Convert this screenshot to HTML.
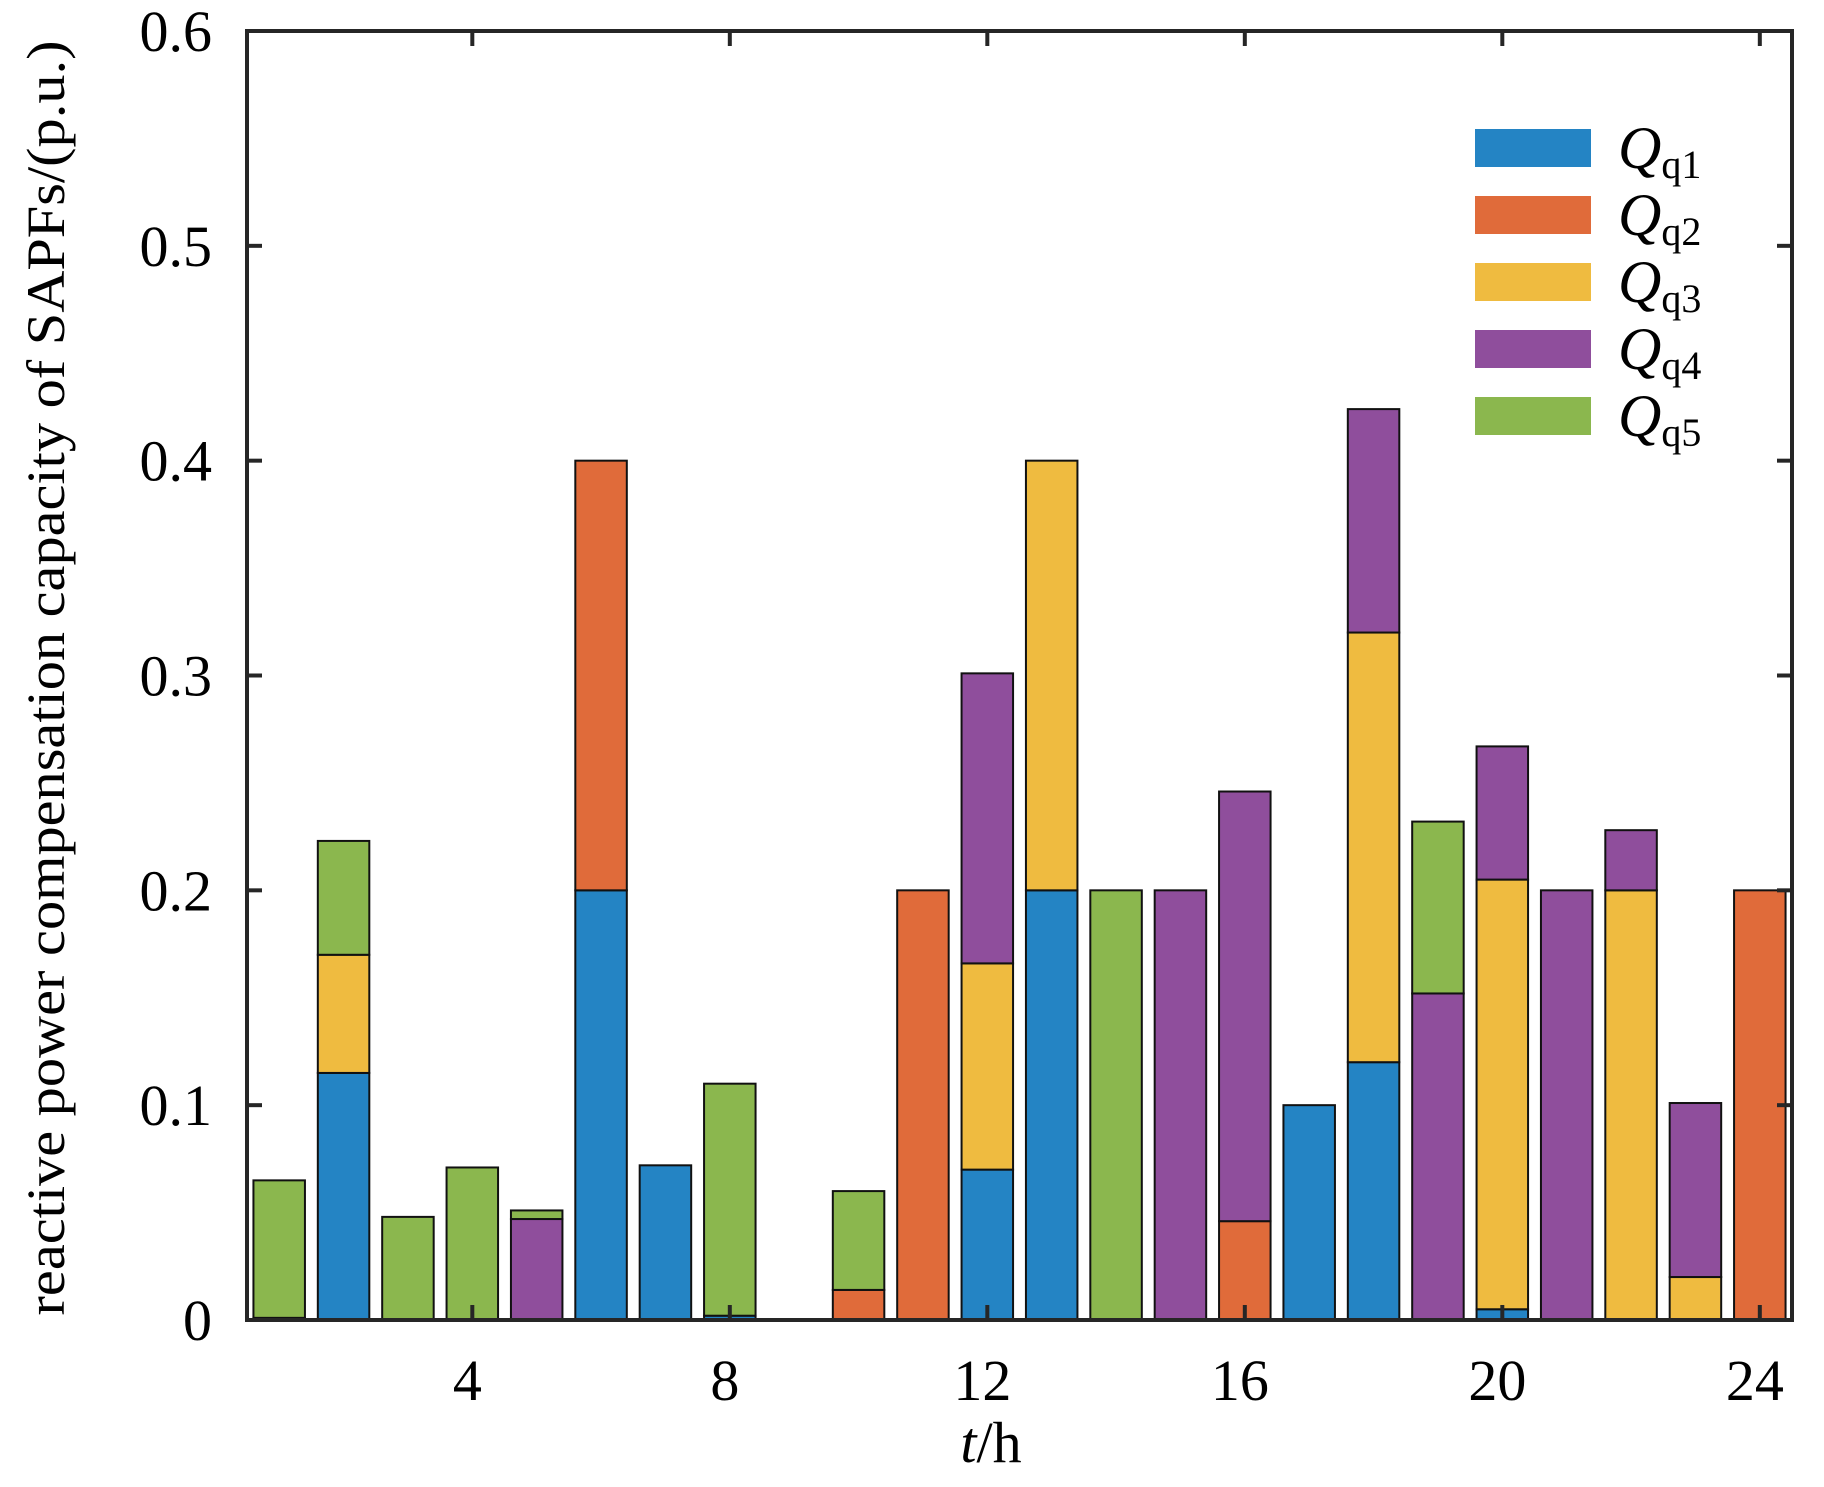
<!DOCTYPE html>
<html><head><meta charset="utf-8"><style>
body{margin:0;background:#fff}
svg text{font-family:"Liberation Serif",serif;fill:#000}
</style></head><body>
<svg id="chart" width="1824" height="1482" viewBox="0 0 1824 1482" xmlns="http://www.w3.org/2000/svg">
<g id="bars"></g>
<g id="axes"></g>
<g id="legend"></g>
</svg>
<script>
const hours = [1,2,3,4,5,6,7,8,9,10,11,12,13,14,15,16,17,18,19,20,21,22,23,24];
const q1 = [0.001,0.115,0,0,0,0.2,0.072,0.002,0,0,0,0.07,0.2,0,0,0,0.1,0.12,0,0.005,0,0,0,0];
const q2 = [0,0,0,0,0,0.2,0,0,0,0.014,0.2,0,0,0,0,0.046,0,0,0,0,0,0,0,0.2];
const q3 = [0,0.055,0,0,0,0,0,0,0,0,0,0.096,0.2,0,0,0,0,0.2,0,0.2,0,0.2,0.02,0];
const q4 = [0,0,0,0,0.047,0,0,0,0,0,0,0.135,0,0,0.2,0.2,0,0.104,0.152,0.062,0.2,0.028,0.081,0];
const q5 = [0.064,0.053,0.048,0.071,0.004,0,0,0.108,0,0.046,0,0,0,0.2,0,0,0,0,0.08,0,0,0,0,0];
const seriesNames = ["q1","q2","q3","q4","q5"];
const seriesColors = ["#2484c4","#e06b3a","#efbb40","#8f4e9c","#8bb74e"];
const xTicks = [4,8,12,16,20,24];
const yTicks = [0,0.1,0.2,0.3,0.4,0.5,0.6];
const yTickLabels = ["0","0.1","0.2","0.3","0.4","0.5","0.6"];

const L=247,R=1792,T=31,B=1320,XMIN=0.5,XMAX=24.5,YMAX=0.6;
const xs=v=>L+(v-XMIN)/(XMAX-XMIN)*(R-L);
const ys=v=>B-v/YMAX*(B-T);
const NS="http://www.w3.org/2000/svg";
function mk(tag,parent,attrs){const e=document.createElementNS(NS,tag);for(const k in attrs)e.setAttribute(k,attrs[k]);parent.appendChild(e);return e;}
const barsG=document.getElementById('bars');
const all=[q1,q2,q3,q4,q5];
const bw=(xs(1)-xs(0))*0.8;
hours.forEach((h,i)=>{
  let base=0;
  all.forEach((s,k)=>{
    const v=s[i]; if(!v) return;
    const r=mk('rect',barsG,{x:xs(h)-bw/2,y:ys(base+v),width:bw,height:ys(base)-ys(base+v),fill:seriesColors[k],stroke:'#111','stroke-width':2});
    
    
    base+=v;
  });
});
const ax=document.getElementById('axes');
const fr=mk('rect',ax,{x:L,y:T,width:R-L,height:B-T,fill:'none',stroke:'#262626','stroke-width':4});


xTicks.forEach(t=>{
  const x=xs(t);
  mk('line',ax,{x1:x,y1:B,x2:x,y2:B-15,stroke:'#262626','stroke-width':4});
  mk('line',ax,{x1:x,y1:T,x2:x,y2:T+15,stroke:'#262626','stroke-width':4});
  const tx=mk('text',ax,{x:x-5,y:1400,'font-size':58,'text-anchor':'middle'});
  tx.textContent=t;
  
  
});
yTicks.forEach((t,i)=>{
  const y=ys(t);
  mk('line',ax,{x1:L,y1:y,x2:L+15,y2:y,stroke:'#262626','stroke-width':4});
  mk('line',ax,{x1:R,y1:y,x2:R-15,y2:y,stroke:'#262626','stroke-width':4});
  const tx=mk('text',ax,{x:212,y:y+20,'font-size':58,'text-anchor':'end'});
  tx.textContent=yTickLabels[i];
  
  
});
const xl=mk('text',ax,{x:991,y:1462,'font-size':58,'text-anchor':'middle'});
xl.innerHTML='<tspan font-style="italic">t</tspan>/h';


const yl=mk('text',ax,{x:0,y:0,'font-size':54,'text-anchor':'middle',textLength:1275,lengthAdjust:'spacingAndGlyphs',transform:'translate(64,678) rotate(-90)'});
yl.textContent='reactive power compensation capacity of SAPFs/(p.u.)';


const lg=document.getElementById('legend');
seriesNames.forEach((n,k)=>{
  const cy=148+k*67;
  const r=mk('rect',lg,{x:1475,y:cy-19,width:116,height:38,fill:seriesColors[k]});
  
  
  const t=mk('text',lg,{x:1618,y:cy+20,'font-size':60});
  t.innerHTML='<tspan font-style="italic">Q</tspan><tspan font-size="40" dy="10">q'+(k+1)+'</tspan>';
  
  
});
</script>
</body></html>
